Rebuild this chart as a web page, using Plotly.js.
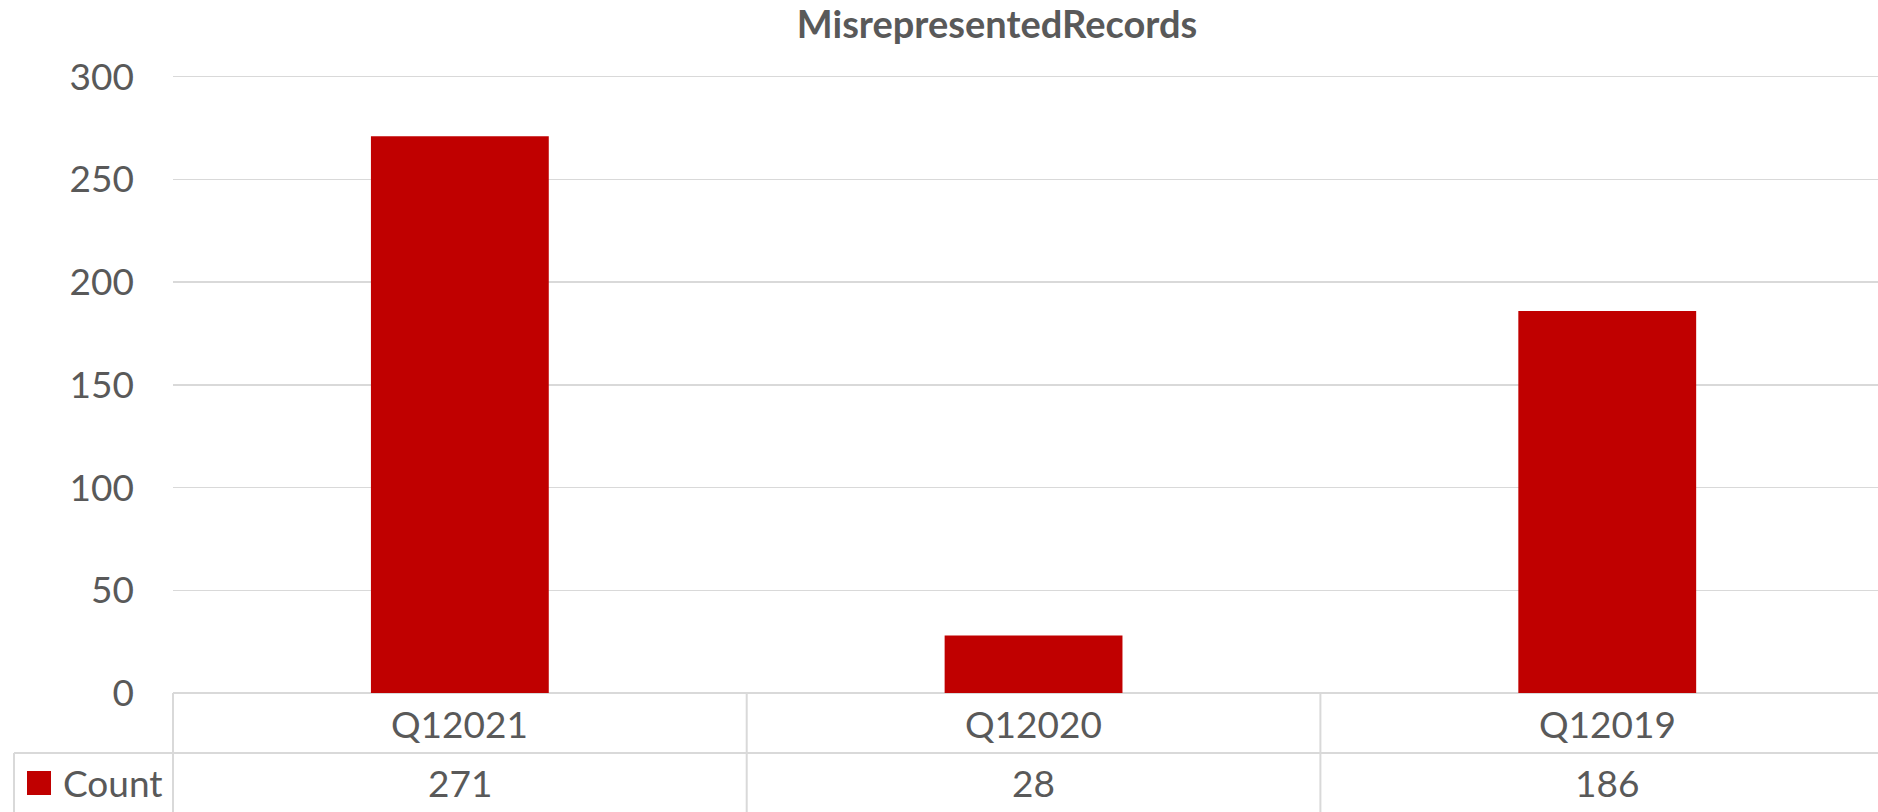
<!DOCTYPE html>
<html><head><meta charset="utf-8">
<script src="https://cdn.plot.ly/plotly-3.0.1.min.js"></script>
<style>html,body{margin:0;padding:0;background:#fff;overflow:hidden}</style>
</head><body><div id="chart" style="width:1878px;height:812px"></div>
<script>
// ---- data ----
const chartTitle = 'MisrepresentedRecords';
const categories = ['Q12021', 'Q12020', 'Q12019'];
const seriesName = 'Count';
const counts = [271, 28, 186];
const yTickValues = [0, 50, 100, 150, 200, 250, 300];

// ---- layout constants (pixels) ----
const W = 1878, H = 812;
const M = {l: 173, r: 0, t: 70, b: 119};
const plotW = W - M.l - M.r, plotH = H - M.t - M.b;
const zeroY = H - M.b;              // pixel y of value 0
const pxPerUnit = (zeroY - 76.7) / 300;
const catW = 573.7;                 // pixel width of one category
const textColor = '#595959';
const gridColor = '#D9D9D9';
const barColor = '#C00000';
const fontFam = 'Lato, "Open Sans", sans-serif';

const px2paperX = x => (x - M.l) / plotW;
const px2paperY = y => (zeroY - y) / plotH;

const row1Y = 723, row2Y = 782.5, rowLineY = 753;

const shapes = [];
const lineStyle = {color: gridColor, width: 2};
// vertical separators between categories
for (let i = 0; i < categories.length - 1; i++) {
  shapes.push({type: 'line', xref: 'x', yref: 'paper', x0: i + 0.5, x1: i + 0.5,
    y0: 0, y1: px2paperY(H + 5), line: lineStyle, layer: 'above'});
}
// left border of table (plot left edge)
shapes.push({type: 'line', xref: 'paper', yref: 'paper', x0: 0, x1: 0,
  y0: 0, y1: px2paperY(H + 5), line: lineStyle});
// horizontal line between category row and value row (incl. legend cell)
shapes.push({type: 'line', xref: 'paper', yref: 'paper', x0: px2paperX(14), x1: 1,
  y0: px2paperY(rowLineY), y1: px2paperY(rowLineY), line: lineStyle});
// legend cell left border
shapes.push({type: 'line', xref: 'paper', yref: 'paper', x0: px2paperX(14), x1: px2paperX(14),
  y0: px2paperY(rowLineY), y1: px2paperY(H + 5), line: lineStyle});
// legend swatch
shapes.push({type: 'rect', xref: 'paper', yref: 'paper',
  x0: px2paperX(27), x1: px2paperX(51), y0: px2paperY(795), y1: px2paperY(771),
  fillcolor: barColor, line: {width: 0}});

const annotations = [];
categories.forEach((c, i) => {
  annotations.push({xref: 'x', yref: 'paper', x: c, y: px2paperY(row1Y),
    text: c, showarrow: false, xanchor: 'center', yanchor: 'middle',
    font: {family: fontFam, size: 37, color: textColor}});
  annotations.push({xref: 'x', yref: 'paper', x: c, y: px2paperY(row2Y),
    text: String(counts[i]), showarrow: false, xanchor: 'center', yanchor: 'middle',
    font: {family: fontFam, size: 37, color: textColor}});
});
annotations.push({xref: 'paper', yref: 'paper', x: px2paperX(61), y: px2paperY(row2Y),
  text: seriesName, showarrow: false, xanchor: 'left', yanchor: 'middle',
  font: {family: fontFam, size: 37, color: textColor}});

const trace = {
  type: 'bar', x: categories, y: counts, name: seriesName,
  width: 0.31, marker: {color: barColor, line: {width: 0}},
  hoverinfo: 'x+y'
};

const layout = {
  width: W, height: H,
  margin: M,
  paper_bgcolor: '#fff', plot_bgcolor: '#fff',
  showlegend: false,
  title: {text: '<b>' + chartTitle + '</b>', xref: 'container', yref: 'container',
    x: 997 / W, y: 1 - 24.5 / H, xanchor: 'center', yanchor: 'middle',
    font: {family: fontFam, size: 38, color: textColor}},
  xaxis: {type: 'category', range: [-0.5, -0.5 + plotW / catW],
    showticklabels: false, showgrid: false, zeroline: false, showline: false, ticks: '',
    fixedrange: true},
  yaxis: {range: [0, plotH / pxPerUnit], tickvals: yTickValues,
    ticktext: yTickValues.map(String),
    showgrid: true, gridcolor: gridColor, gridwidth: 1.5,
    zeroline: true, zerolinecolor: gridColor, zerolinewidth: 2,
    showline: false, ticks: '', ticklabelstandoff: 38,
    tickfont: {family: fontFam, size: 37, color: textColor}, fixedrange: true},
  shapes: shapes,
  annotations: annotations
};

Plotly.newPlot('chart', [trace], layout, {displayModeBar: false, staticPlot: true});
</script>
</body></html>
